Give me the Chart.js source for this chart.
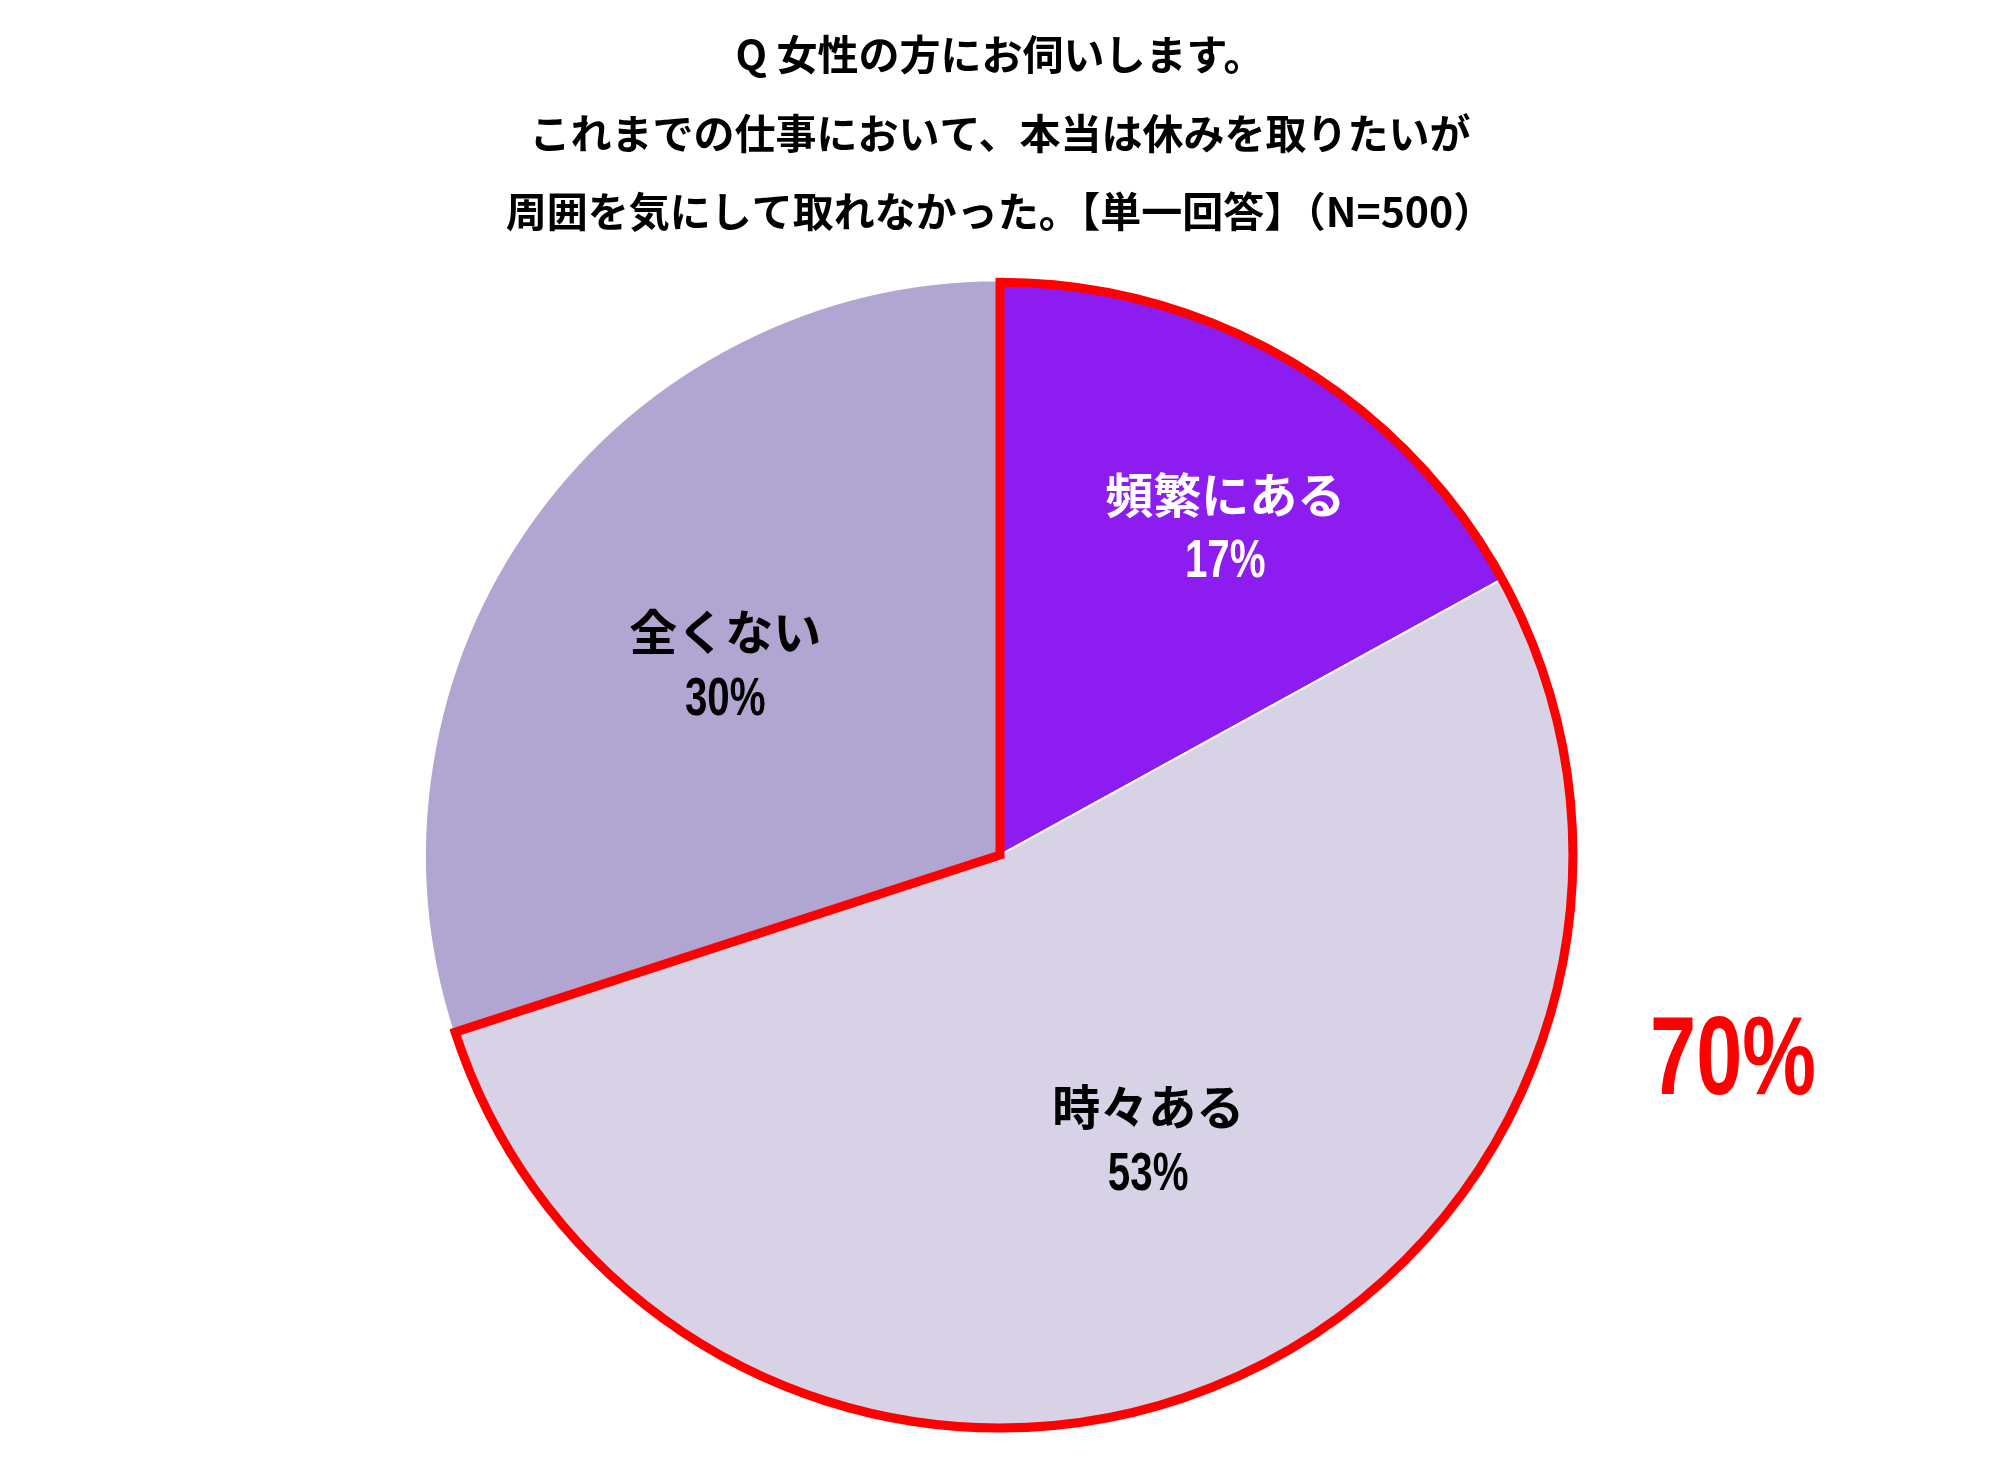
<!DOCTYPE html>
<html lang="ja">
<head>
<meta charset="utf-8">
<script src="https://cdn.jsdelivr.net/npm/chart.js@4"></script>
<style>
  html, body { margin: 0; padding: 0; background: #fff; }
  #wrap { width: 2000px; height: 1464px; position: relative; }
</style>
</head>
<body>
<div id="wrap"><canvas id="pieChart"></canvas></div>
<script>
const titleLines = [
  'Q 女性の方にお伺いします。',
  'これまでの仕事において、本当は休みを取りたいが',
  '周囲を気にして取れなかった。【単一回答】（N=500）'
];
const categories = ['頻繁にある', '時々ある', '全くない'];
const shares = [17, 53, 30];
const sliceColors = ['#8d1cf1', '#d8d2e7', '#b1a6d2'];
const labelColors = ['#ffffff', '#000000', '#000000'];

const jpFont = "'Noto Sans CJK JP', 'Noto Sans', sans-serif";
const numFont = "'Liberation Sans', Arial, sans-serif";

// label placement inside each slice: fraction of radius + small angle nudge (deg)
const labelRadius = [0.69, 0.56, 0.58];
const labelNudge = [4, -4, -1.5];

function drawNarrow(ctx, text, x, y, sx) {
  ctx.save();
  ctx.translate(x, y);
  ctx.scale(sx, 1);
  ctx.fillText(text, 0, 0);
  ctx.restore();
}

const pieExtras = {
  id: 'pieExtras',
  afterDatasetsDraw(chart) {
    const ctx = chart.ctx;
    const meta = chart.getDatasetMeta(0);
    const a0 = meta.data[0];
    const a1 = meta.data[1];
    const cx = a0.x, cy = a0.y, r = a0.outerRadius;

    // red outline round the first two slices
    ctx.save();
    ctx.strokeStyle = '#ff0000';
    ctx.lineWidth = 9;
    ctx.lineJoin = 'miter';
    ctx.beginPath();
    ctx.moveTo(cx, cy);
    ctx.arc(cx, cy, r - 2, a0.startAngle, a1.endAngle);
    ctx.closePath();
    ctx.stroke();
    ctx.restore();

    // slice labels
    ctx.save();
    ctx.textAlign = 'center';
    ctx.textBaseline = 'middle';
    meta.data.forEach((arc, i) => {
      const mid = (arc.startAngle + arc.endAngle) / 2 + labelNudge[i] * Math.PI / 180;
      const d = r * labelRadius[i];
      const x = cx + Math.cos(mid) * d;
      const y = cy + Math.sin(mid) * d;
      ctx.fillStyle = labelColors[i];
      ctx.font = 'bold 48px ' + jpFont;
      ctx.fillText(categories[i], x, y - 34);
      ctx.font = 'bold 53px ' + numFont;
      drawNarrow(ctx, shares[i] + '%', x, y + 34, 0.76);
    });

    // total of the outlined slices
    ctx.fillStyle = '#ff0000';
    ctx.font = 'bold 112px ' + numFont;
    drawNarrow(ctx, (shares[0] + shares[1]) + '%', cx + 733, cy + 208, 0.74);
    ctx.restore();
  }
};

new Chart(document.getElementById('pieChart'), {
  type: 'pie',
  data: {
    labels: categories,
    datasets: [{
      data: shares,
      backgroundColor: sliceColors,
      borderColor: '#ffffff',
      borderWidth: 2
    }]
  },
  options: {
    responsive: true,
    maintainAspectRatio: false,
    devicePixelRatio: 1,
    animation: false,
    layout: { padding: { top: 0, bottom: 33, left: 0, right: 0 } },
    plugins: {
      legend: { display: false },
      tooltip: { enabled: false },
      title: {
        display: true,
        text: titleLines,
        color: '#000000',
        font: { family: jpFont, size: 41, weight: 'bold', lineHeight: 1.92 },
        padding: { top: 15, bottom: 28 }
      }
    }
  },
  plugins: [pieExtras]
});
</script>
</body>
</html>
